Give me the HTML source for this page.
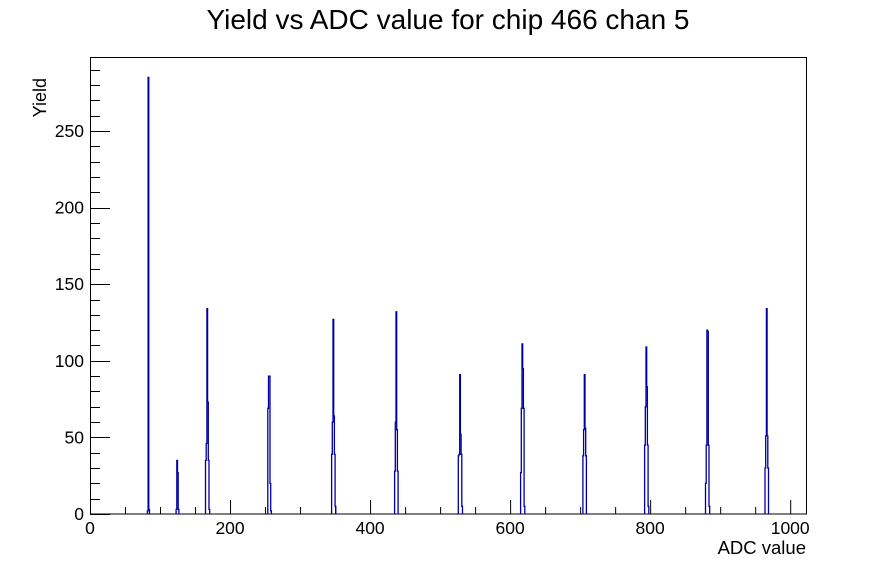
<!DOCTYPE html>
<html><head><meta charset="utf-8"><style>
body{margin:0;background:#fff;}
svg text{font-family:"Liberation Sans",sans-serif;}
</style></head><body>
<svg id="s" width="896" height="572" xmlns="http://www.w3.org/2000/svg">
<rect width="896" height="572" fill="#fff"/>
<text x="448" y="29" font-size="28" text-anchor="middle">Yield vs ADC value for chip 466 chan 5</text>
<text x="806" y="554" font-size="18.5" text-anchor="end">ADC value</text>
<text x="46" y="78" font-size="18" text-anchor="end" transform="rotate(-90 46 78)">Yield</text>
<g id="ax" stroke="#000" stroke-width="1" fill="none"></g>
<g id="lab" font-size="17.5"></g>
<path id="h" fill="none" stroke="#0000a0" stroke-width="1.3"/>
</svg>
<script>
var X0=90,X1=807,Y0=514,Y1=57,kx=717/1024,ky=383/250;
function px(v){return X0+v*kx}function py(v){return Y0-v*ky}
var ax=document.getElementById('ax'),lab=document.getElementById('lab'),s='';
s+='<rect x="90.5" y="57.5" width="716" height="456.5"/>';
for(var v=0;v<=1000;v+=50){var L=v%200==0?14:7;var x=px(v)+.5;s+='<line x1="'+x+'" y1="514" x2="'+x+'" y2="'+(514-L)+'"/>';}
for(var v=0;v<=290;v+=10){var L=v%50==0?20:10;var y=Math.round(py(v))+.5;s+='<line x1="90" y1="'+y+'" x2="'+(90+L)+'" y2="'+y+'"/>';}
ax.innerHTML=s;s='';
for(var v=0;v<=1000;v+=200)s+='<text x="'+px(v)+'" y="534" text-anchor="middle">'+v+'</text>';
for(var v=0;v<=250;v+=50)s+='<text x="84" y="'+(py(v)+6)+'" text-anchor="end">'+v+'</text>';
lab.innerHTML=s;
var P=[[82,[2,285,3]],[123,[3,35,27,3]],[165,[35,46,134,73,35,3]],[254,[69,90,90,20,2]],[345,[39,60,127,64,39,5]],[435,[28,60,132,55,28]],[526,[38,39,91,52,39,5]],[615,[27,69,111,95,69,5]],[704,[38,55,91,56,38]],[792,[45,70,109,83,45,5]],[879,[20,45,120,119,45,5]],[964,[30,51,134,51,30]]];
var d='';
P.forEach(function(p){var st=p[0];d+=' M'+px(st).toFixed(1)+' '+Y0;p[1].forEach(function(h,i){d+=' V'+py(h).toFixed(1)+' H'+px(st+i+1).toFixed(1);});d+=' V'+Y0;});
document.getElementById('h').setAttribute('d',d);
</script>
</body></html>
